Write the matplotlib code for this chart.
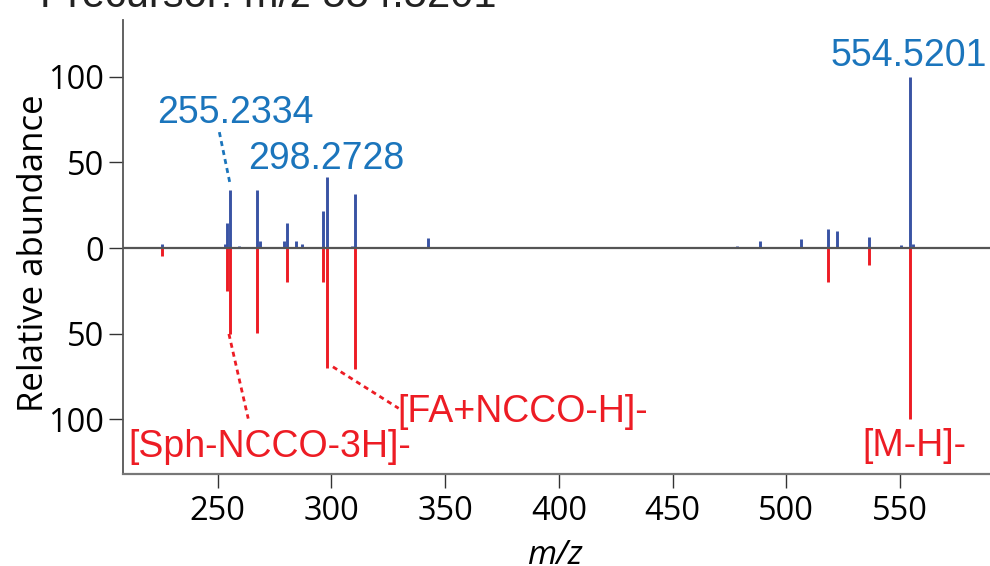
import matplotlib
matplotlib.use("Agg")
import matplotlib.pyplot as plt
from matplotlib.ticker import FixedLocator, FuncFormatter

# ---------------- data ----------------
mz_top = [225.4, 253.2, 254.1, 255.23, 259.2, 267.1, 268.6, 279.0, 280.3, 284.3,
          287.1, 296.5, 298.27, 308.9, 310.5, 342.5, 478.5, 488.6, 506.5, 518.5,
          522.5, 536.5, 550.6, 554.52, 555.9]
int_top = [2.3, 2.3, 14.6, 34.1, 1.2, 33.7, 3.9, 3.9, 14.6, 3.9,
           2.3, 21.8, 41.3, 1.0, 31.6, 5.8, 1.4, 4.1, 5.1, 11.1,
           10.1, 6.4, 1.6, 100.0, 2.5]

mz_bottom = [225.4, 254.1, 255.23, 267.1, 280.3, 296.5, 298.27, 310.5, 518.5, 536.5, 554.52]
int_bottom = [4.9, 24.8, 50.1, 49.7, 19.9, 19.9, 70.0, 70.3, 19.7, 9.7, 100.0]

top_labels = ["255.2334", "298.2728", "554.5201"]
bottom_labels = ["[Sph-NCCO-3H]-", "[FA+NCCO-H]-", "[M-H]-"]

x_ticks = [250, 300, 350, 400, 450, 500, 550]
y_ticks = [-100, -50, 0, 50, 100]

title_text = "Precursor: m/z 554.5201"

# ---------------- style ----------------
BLUE = "#3953a4"
RED = "#ed1c24"
LBLUE = "#1b75bc"
TICKFONT = "Open Sans"
ANNFONT = "Liberation Sans"

fig = plt.figure(figsize=(9.9, 5.66), dpi=100)
ax = fig.add_axes([123.3 / 990, 1 - 474 / 566, 1 - 123.3 / 990, (474 - 20) / 566])

ax.vlines(mz_top, 0, int_top, color=BLUE, lw=2.1, zorder=2)
ax.vlines(mz_bottom, 0, [-v for v in int_bottom], color=RED, lw=2.1, zorder=2)
ax.axhline(0, color="#555555", lw=1.6, zorder=3)

ax.set_xlim(208.5, 589.6)
ax.set_ylim(-131.8, 133.0)

for s in ["top", "right"]:
    ax.spines[s].set_visible(False)
ax.spines["left"].set_color("#555555")
ax.spines["left"].set_linewidth(1.3)
ax.spines["bottom"].set_color("#777777")
ax.spines["bottom"].set_linewidth(1.6)

ax.xaxis.set_major_locator(FixedLocator(x_ticks))
ax.yaxis.set_major_locator(FixedLocator(y_ticks))
ax.yaxis.set_major_formatter(FuncFormatter(lambda v, p: f"{abs(int(round(v)))}"))
ax.tick_params(axis="both", direction="out", length=10, width=1.0, color="#333333",
               labelsize=23.5, pad=4)
ax.tick_params(axis="x", pad=5)
for lab in ax.get_xticklabels() + ax.get_yticklabels():
    lab.set_fontfamily(TICKFONT)

fig.text(34 / 990, 0.553, "Relative abundance", rotation=90, ha="center", va="center",
         fontsize=25, family=TICKFONT, color="black")
fig.text(555 / 990, 2 / 566, "m/z", ha="center", va="baseline", fontsize=24,
         family=TICKFONT, style="italic")
fig.text(40 / 990, 1 - 7 / 566, title_text, ha="left", va="baseline", fontsize=30,
         family=ANNFONT, color="#222222")

# ---------------- annotations ----------------
fs = 27
dot = (0, (1.8, 1.5))
# 255.2334
i = mz_top.index(255.23)
ax.text(mz_top[i] + 2.4, int_top[i] + 38.7, top_labels[0], ha="center", va="baseline",
        fontsize=fs, family=ANNFONT, color=LBLUE)
ax.plot([mz_top[i] - 4.5, mz_top[i] + 0.2], [int_top[i] + 33.5, int_top[i] + 3.4],
        color=LBLUE, lw=2.0, ls=dot)
# 298.2728
i = mz_top.index(298.27)
ax.text(mz_top[i] - 0.6, int_top[i] + 4.9, top_labels[1], ha="center", va="baseline",
        fontsize=fs, family=ANNFONT, color=LBLUE)
# 554.5201
i = mz_top.index(554.52)
ax.text(mz_top[i] - 0.7, int_top[i] + 6.4, top_labels[2], ha="center", va="baseline",
        fontsize=fs, family=ANNFONT, color=LBLUE)

# [Sph-NCCO-3H]-
j = mz_bottom.index(255.23)
ax.text(mz_bottom[j] + 17.6, -int_bottom[j] - 71.5, bottom_labels[0], ha="center",
        va="baseline", fontsize=fs, family=ANNFONT, color=RED)
ax.plot([mz_bottom[j] - 0.3, mz_bottom[j] + 8.2], [-int_bottom[j], -int_bottom[j] - 49.4],
        color=RED, lw=2.0, ls=dot)
# [FA+NCCO-H]-
j = mz_bottom.index(298.27)
ax.text(mz_bottom[j] + 86.0, -int_bottom[j] - 31.6, bottom_labels[1], ha="center",
        va="baseline", fontsize=fs, family=ANNFONT, color=RED)
ax.plot([mz_bottom[j] + 2.4, mz_bottom[j] + 31.3], [-int_bottom[j] + 0.7, -int_bottom[j] - 23.5],
        color=RED, lw=2.0, ls=dot)
# [M-H]-
j = mz_bottom.index(554.52)
ax.text(mz_bottom[j] + 1.8, -int_bottom[j] - 21.3, bottom_labels[2], ha="center",
        va="baseline", fontsize=fs, family=ANNFONT, color=RED)

fig.savefig("out.png", dpi=100)
